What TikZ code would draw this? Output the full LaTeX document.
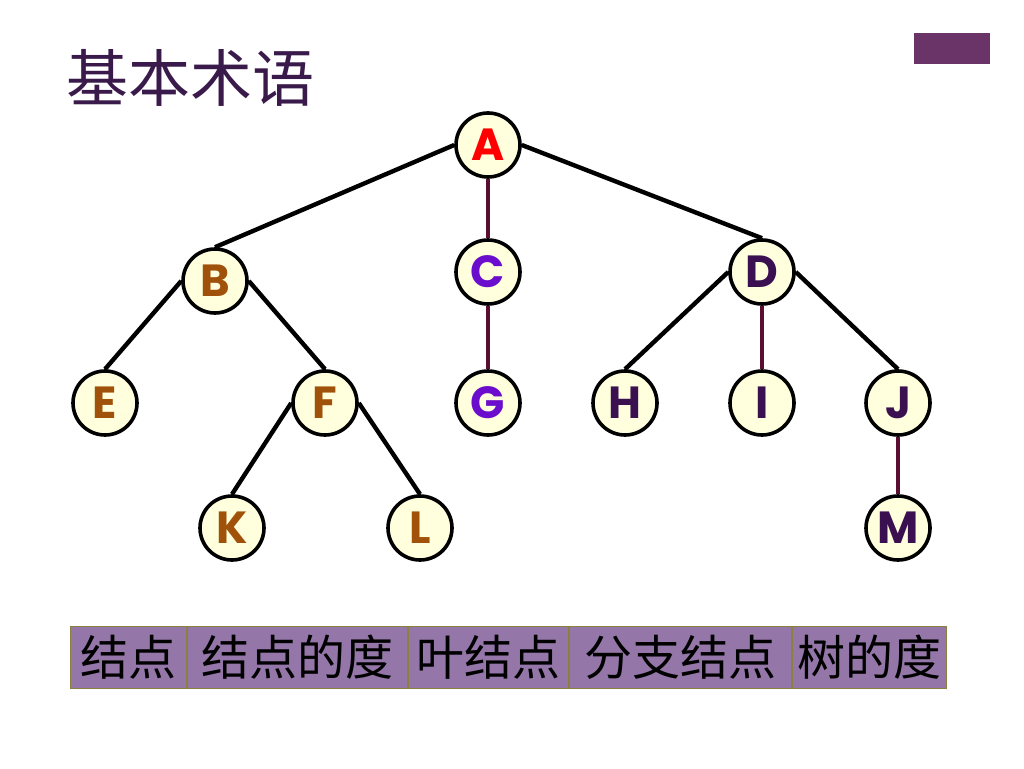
\documentclass[tikz,border=0pt]{standalone}
\usepackage{fontspec}
\newfontfamily\cjk{Noto Sans CJK SC}
\newfontfamily\lett{Poppins}[UprightFont=* Bold]
\definecolor{nodefill}{HTML}{FFFFDD}
\definecolor{cred}{HTML}{FF0000}
\definecolor{cbrown}{HTML}{A0520A}
\definecolor{cpurple}{HTML}{6A0DCC}
\definecolor{cdark}{HTML}{3A1050}
\definecolor{maroon}{HTML}{5A0F30}
\definecolor{titlecol}{HTML}{3A1A4A}
\definecolor{barfill}{HTML}{9477A8}
\definecolor{barline}{HTML}{8A8040}
\definecolor{tagcol}{HTML}{6B3468}
\tikzset{
  tn/.style={circle, draw=black, line width=3.6pt, fill=nodefill, minimum size=64pt, inner sep=0pt, font=\lett\fontsize{45}{45}\selectfont},
  edge/.style={draw=black, line width=4.4pt},
  vedge/.style={draw=maroon, line width=4.4pt},
  cell/.style={draw=barline, line width=1pt, fill=barfill, minimum height=62pt, inner sep=0pt, anchor=west, font=\cjk\fontsize{48}{48}\selectfont, text=black}
}
\begin{document}
\begin{tikzpicture}[x=1pt,y=-1pt]
\useasboundingbox (0,0) rectangle (1024,768);
\fill[white] (0,0) rectangle (1024,768);
\node[anchor=west, text=titlecol, font=\cjk\fontsize{62}{62}\selectfont, inner sep=0pt] (title) at (66,78) {基本术语};
\node[fill=tagcol, minimum width=76pt, minimum height=31pt, inner sep=0pt] (tag) at (952,48.5) {};

\node[tn, text=cred] (A) at (488,145) {A};
\node[tn, text=cbrown] (B) at (215,281) {B};
\node[tn, text=cpurple] (C) at (488,272) {C};
\node[tn, text=cdark] (D) at (762,272) {D};
\node[tn, text=cbrown] (E) at (105,403) {E};
\node[tn, text=cbrown] (F) at (325,403) {F};
\node[tn, text=cpurple] (G) at (488,403) {G};
\node[tn, text=cdark] (H) at (625,403) {H};
\node[tn, text=cdark] (I) at (762,403) {I};
\node[tn, text=cdark] (J) at (898,403) {J};
\node[tn, text=cbrown] (K) at (232,528) {K};
\node[tn, text=cbrown] (L) at (420,528) {L};
\node[tn, text=cdark] (M) at (898,528) {M};

\draw[edge] (A.west) -- (B.north);
\draw[edge] (A.east) -- (D.north);
\draw[edge] (B.west) -- (E.north);
\draw[edge] (B.east) -- (F.north);
\draw[edge] (F.west) -- (K.north);
\draw[edge] (F.east) -- (L.north);
\draw[edge] (D.west) -- (H.north);
\draw[edge] (D.east) -- (J.north);
\draw[vedge] (A.south) -- (C.north);
\draw[vedge] (C.south) -- (G.north);
\draw[vedge] (D.south) -- (I.north);
\draw[vedge] (J.south) -- (M.north);

\node[cell, minimum width=116pt] (c1) at (70,657) {结点};
\node[cell, minimum width=220pt] (c2) at (c1.east) {结点的度};
\node[cell, minimum width=160pt] (c3) at (c2.east) {叶结点};
\node[cell, minimum width=222pt] (c4) at (c3.east) {分支结点};
\node[cell, minimum width=154pt] (c5) at (c4.east) {树的度};
\end{tikzpicture}
\end{document}
